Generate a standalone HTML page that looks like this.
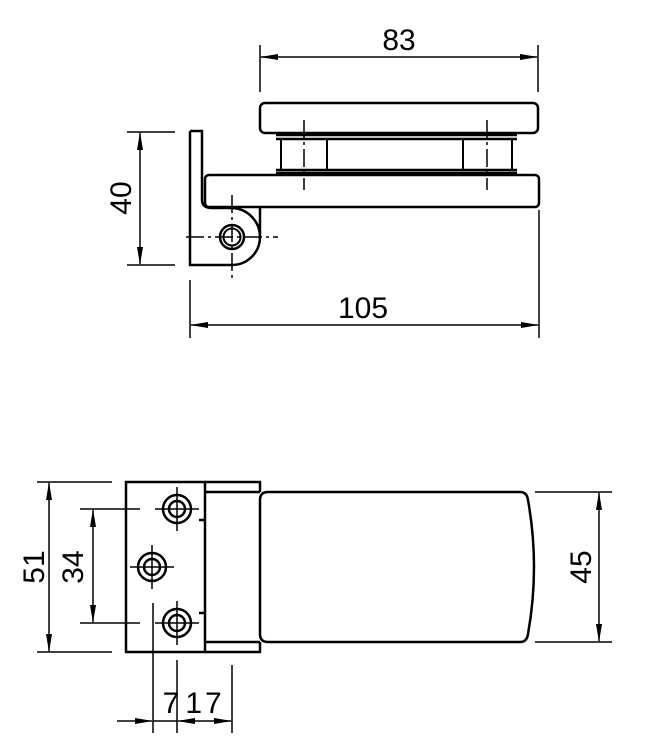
<!DOCTYPE html>
<html><head><meta charset="utf-8"><style>
html,body{margin:0;padding:0;background:#fff;}
svg{display:block;}
text{font-family:"Liberation Sans",sans-serif;font-size:30px;fill:#000;}
</style></head><body>
<svg width="651" height="755" viewBox="0 0 651 755" xmlns="http://www.w3.org/2000/svg">
<defs>
<marker id="a" markerWidth="18" markerHeight="6" refX="17" refY="3" orient="auto" markerUnits="userSpaceOnUse"><path d="M0,0 L18,3 L0,6 z" fill="#000"/></marker>
<marker id="b" markerWidth="18" markerHeight="6" refX="1" refY="3" orient="auto" markerUnits="userSpaceOnUse"><path d="M18,0 L0,3 L18,6 z" fill="#000"/></marker>
</defs>
<g fill="none" stroke="#000" stroke-width="2.5">
<rect x="260" y="103" width="278" height="30" rx="5"/>
<line x1="276" y1="135" x2="517" y2="135"/>
<line x1="276" y1="139" x2="517" y2="139"/>
<line x1="276" y1="170" x2="517" y2="170"/>
<line x1="276" y1="173" x2="517" y2="173"/>
<g stroke-width="2">
<line x1="281" y1="139" x2="281" y2="170"/>
<line x1="327" y1="139" x2="327" y2="170"/>
<line x1="463" y1="139" x2="463" y2="170"/>
<line x1="512" y1="139" x2="512" y2="170"/>
</g>
<rect x="205" y="175" width="334" height="32" rx="4"/>
<path d="M190,131 L202,131 L202,200 Q202,208 212,208 L232,208 A29,29 0 0 1 260,237 L260,207"/>
<path d="M190,131 L190,265 L232,265 A28,28 0 0 0 260,237"/>
<circle cx="232" cy="237" r="12"/>
<circle cx="232" cy="237" r="8.5" stroke-width="2"/>
</g>
<g stroke="#000" stroke-width="1.5" fill="none" stroke-dasharray="18,4,3,4">
<line x1="304" y1="120" x2="304" y2="190"/>
<line x1="487" y1="120" x2="487" y2="190"/>
<line x1="186" y1="237" x2="278" y2="237"/>
<line x1="232" y1="195" x2="232" y2="280"/>
</g>
<g stroke="#000" stroke-width="1.5" fill="none">
<line x1="260" y1="45" x2="260" y2="92"/>
<line x1="538" y1="45" x2="538" y2="92"/>
<line x1="261" y1="57" x2="537" y2="57" marker-start="url(#b)" marker-end="url(#a)"/>
<line x1="127" y1="132" x2="175" y2="132"/>
<line x1="127" y1="265" x2="175" y2="265"/>
<line x1="140" y1="133" x2="140" y2="264" marker-start="url(#b)" marker-end="url(#a)"/>
<line x1="190" y1="280" x2="190" y2="338"/>
<line x1="539" y1="210" x2="539" y2="338"/>
<line x1="191" y1="325" x2="538" y2="325" marker-start="url(#b)" marker-end="url(#a)"/>
</g>
<text x="399" y="50" text-anchor="middle">83</text>
<text x="363" y="318" text-anchor="middle">105</text>
<text transform="translate(131,198) rotate(-90)" text-anchor="middle">40</text>
<g fill="none" stroke="#000" stroke-width="2.5">
<rect x="126" y="482" width="79" height="170"/>
<path d="M205,482 L260,482 L260,492 M205,492 L260,492 M205,642 L260,642 M205,652 L260,652 L260,642"/>
<path d="M268,492 L520,492 Q527,492 528,500 Q540,567 528,634 Q527,642 520,642 L268,642 Q260,642 260,634 L260,500 Q260,492 268,492 Z"/>
<line x1="199" y1="520" x2="205" y2="520"/>
<line x1="199" y1="613" x2="205" y2="613"/>
<circle cx="177" cy="509" r="14"/><circle cx="177" cy="509" r="8"/>
<circle cx="152" cy="567" r="14"/><circle cx="152" cy="567" r="8"/>
<circle cx="177" cy="623" r="14"/><circle cx="177" cy="623" r="8"/>
</g>
<g stroke="#000" stroke-width="1.5">
<line x1="155" y1="509" x2="199" y2="509"/><line x1="177" y1="487" x2="177" y2="531"/>
<line x1="130" y1="567" x2="174" y2="567"/><line x1="152" y1="545" x2="152" y2="589"/>
<line x1="155" y1="623" x2="199" y2="623"/><line x1="177" y1="601" x2="177" y2="645"/>
<line x1="37" y1="482" x2="112" y2="482"/>
<line x1="37" y1="652" x2="112" y2="652"/>
<line x1="49" y1="483" x2="49" y2="651" marker-start="url(#b)" marker-end="url(#a)"/>
<line x1="80" y1="509" x2="140" y2="509"/>
<line x1="80" y1="623" x2="140" y2="623"/>
<line x1="93" y1="510" x2="93" y2="622" marker-start="url(#b)" marker-end="url(#a)"/>
<line x1="535" y1="492" x2="612" y2="492"/>
<line x1="535" y1="642" x2="612" y2="642"/>
<line x1="599" y1="493" x2="599" y2="641" marker-start="url(#b)" marker-end="url(#a)"/>
<line x1="153" y1="603" x2="153" y2="733"/>
<line x1="177" y1="660" x2="177" y2="733"/>
<line x1="232" y1="665" x2="232" y2="733"/>
<line x1="117" y1="721" x2="152" y2="721" marker-end="url(#a)"/>
<line x1="153" y1="721" x2="177" y2="721"/>
<line x1="178" y1="721" x2="231" y2="721" marker-start="url(#b)" marker-end="url(#a)"/>
</g>
<text transform="translate(44,567) rotate(-90)" text-anchor="middle">51</text>
<text transform="translate(83,567) rotate(-90)" text-anchor="middle">34</text>
<text transform="translate(591,567) rotate(-90)" text-anchor="middle">45</text>
<text x="171" y="713" text-anchor="middle">7</text>
<text x="205" y="713" text-anchor="middle" letter-spacing="3">17</text>
</svg>
</body></html>
